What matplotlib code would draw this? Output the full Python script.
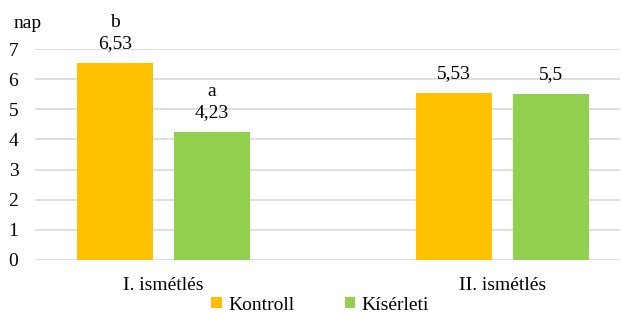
import matplotlib
matplotlib.use("Agg")
import matplotlib.pyplot as plt
from matplotlib.font_manager import FontProperties
import numpy as np

categories = ["I. ismétlés", "II. ismétlés"]
series_names = ["Kontroll", "Kísérleti"]
kontroll = [6.53, 5.53]
kiserleti = [4.23, 5.5]
kontroll_labels = ["b\n6,53", "5,53"]
kiserleti_labels = ["a\n4,23", "5,5"]
yticks = [0, 1, 2, 3, 4, 5, 6, 7]
colors = ["#FFC000", "#92D050"]

plt.rcParams['font.family'] = ['Liberation Serif', 'DejaVu Serif']

fig = plt.figure(figsize=(6.21, 3.13), dpi=100)
ax = fig.add_axes([35/621, (313-260)/313, 585/621, (260-49)/313])

x = np.arange(len(categories))
w = 0.224
off = 0.1427
b1 = ax.bar(x - off, kontroll, w, color=colors[0], label=series_names[0], zorder=3)
b2 = ax.bar(x + off, kiserleti, w, color=colors[1], label=series_names[1], zorder=3)

for bars, labels in ((b1, kontroll_labels), (b2, kiserleti_labels)):
    for rect, lab in zip(bars, labels):
        ax.annotate(lab, (rect.get_x() + rect.get_width()/2, rect.get_height()),
                    xytext=(0, 8), textcoords="offset points", ha="center", va="bottom",
                    fontsize=14, linespacing=1.35)

ax.set_xlim(-0.3785, 1.346)
ax.set_ylim(0, 7)
ax.set_yticks(yticks)
ax.set_yticklabels([str(v) for v in yticks], fontsize=14)
ax.set_xticks(x)
ax.set_xticklabels(categories, fontsize=14)
ax.tick_params(axis='y', length=0, pad=12)
ax.tick_params(axis='x', length=0, pad=12)
ax.grid(axis='y', color='#D9D9D9', linewidth=1.2, zorder=0)
for s in ax.spines.values():
    s.set_visible(False)

fig.text(14/621, 1 - 24/313, "nap", fontsize=14, ha="left", va="center")

fig.legend(handles=[b1, b2], labels=series_names, loc="center", bbox_to_anchor=(320/621, 1 - 305/313),
           ncol=2, frameon=False, prop=FontProperties(family='Liberation Serif', size=14),
           handlelength=0.55, handleheight=0.55,
           handletextpad=0.3, columnspacing=2.6, borderpad=0)

fig.savefig("out.png", dpi=100)
